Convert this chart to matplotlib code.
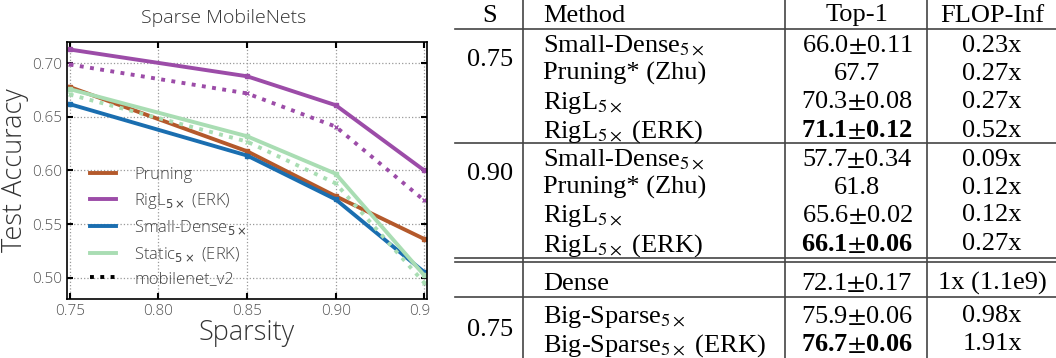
import matplotlib
matplotlib.use("Agg")
import matplotlib.pyplot as plt
from matplotlib.font_manager import FontProperties
from matplotlib.patches import Rectangle
from matplotlib.lines import Line2D

# ---- data ----
sparsity = [0.75, 0.85, 0.90, 0.95]
pruning = [0.678, 0.618, 0.576, 0.536]
rigl_erk = [0.713, 0.688, 0.661, 0.600]
small_dense = [0.662, 0.614, 0.573, 0.505]
static_erk = [0.676, 0.632, 0.597, 0.502]
rigl_erk_v2 = [0.699, 0.672, 0.641, 0.572]
static_erk_v2 = [0.671, 0.627, 0.588, 0.495]

x_ticks = [0.75, 0.80, 0.85, 0.90, 0.95]
y_ticks = [0.50, 0.55, 0.60, 0.65, 0.70]

table_header = ["S", "Method", "Top-1", "FLOP-Inf"]
table_s = ["0.75", "0.90", "0.75"]
table_methods = ["Small-Dense$_{5\\times}$", "Pruning* (Zhu)", "RigL$_{5\\times}$",
                 "RigL$_{5\\times}$ (ERK)",
                 "Small-Dense$_{5\\times}$", "Pruning* (Zhu)", "RigL$_{5\\times}$",
                 "RigL$_{5\\times}$ (ERK)",
                 "Dense", "Big-Sparse$_{5\\times}$", "Big-Sparse$_{5\\times}$ (ERK)"]
table_top1 = ["66.0$\\pm$0.11", "67.7", "70.3$\\pm$0.08", "71.1$\\pm$0.12",
              "57.7$\\pm$0.34", "61.8", "65.6$\\pm$0.02", "66.1$\\pm$0.06",
              "72.1$\\pm$0.17", "75.9$\\pm$0.06", "76.7$\\pm$0.06"]
table_bold = [False, False, False, True, False, False, False, True, False, False, True]
table_flop = ["0.23x", "0.27x", "0.27x", "0.52x", "0.09x", "0.12x", "0.12x", "0.27x",
              "1x (1.1e9)", "0.98x", "1.91x"]

W, H = 1056, 358
fig = plt.figure(figsize=(W / 100, H / 100), dpi=100)


def fx(px):
    return px / W


def fy(py):
    return 1 - py / H


# ---- left: line chart ----
cfont = "Open Sans"
ax = fig.add_axes([fx(67), fy(299), fx(427) - fx(67), fy(42) - fy(299)])

c_prune = "#b4592b"
c_rigl = "#9c4ca8"
c_small = "#1a6eb0"
c_static = "#a9ddb3"
lw = 2.8

ax.plot(sparsity, pruning, color=c_prune, lw=lw, marker="s", ms=3)
ax.plot(sparsity, rigl_erk, color=c_rigl, lw=lw, marker="s", ms=3)
ax.plot(sparsity, small_dense, color=c_small, lw=lw, marker="s", ms=3)
ax.plot(sparsity, static_erk, color=c_static, lw=lw, marker="s", ms=3)
ax.plot(sparsity, rigl_erk_v2, color=c_rigl, lw=lw, ls=":", marker="x", ms=3)
ax.plot(sparsity, static_erk_v2, color=c_static, lw=lw, ls=":", marker="x", ms=3)

ax.set_xlim(0.7485, 0.9515)
ax.set_ylim(0.48, 0.72)
ax.set_xticks(x_ticks)
ax.set_yticks(y_ticks)
ax.set_xticklabels(["%.2f" % v for v in x_ticks])
ax.set_yticklabels(["%.2f" % v for v in y_ticks])
ax.grid(True, ls=":", color="#999999", lw=0.9)
ax.tick_params(direction="in", length=4, width=1.5, colors="black",
               labelcolor="#555555", labelsize=11, top=True, right=True)
for lab in ax.get_xticklabels() + ax.get_yticklabels():
    lab.set_family(cfont)
    lab.set_fontweight("light")
for sp in ax.spines.values():
    sp.set_color("black")
    sp.set_linewidth(1.2)

ax.set_ylabel("Test Accuracy", fontsize=19.5, family=cfont, fontweight="light",
              color="#333333", labelpad=2)
ax.set_xlabel("Sparsity", fontsize=19.5, family=cfont, fontweight="light",
              color="#333333", labelpad=0)
fig.text(fx(224), fy(18), "Sparse MobileNets", ha="center", va="center",
         fontsize=14, family=cfont, fontweight="light", color="#333333")

leg_labels = ["Pruning", "RigL$_{5\\times}$ (ERK)", "Small-Dense$_{5\\times}$",
              "Static$_{5\\times}$ (ERK)", "mobilenet_v2"]
leg_colors = [c_prune, c_rigl, c_small, c_static, "black"]
handles = [Line2D([], [], color=c, lw=lw) for c in leg_colors[:4]]
handles.append(Line2D([], [], color="black", lw=lw, ls=":"))
lprop = FontProperties(family=cfont, weight="light", size=12, math_fontfamily="dejavusans")
leg = ax.legend(handles, leg_labels, loc="lower left", frameon=False, prop=lprop,
                handlelength=1.55, handletextpad=1.1, labelspacing=0.45,
                borderaxespad=0.0, bbox_to_anchor=(0.045, 0.02))
for t in leg.get_texts():
    t.set_color("#444444")

# white mask: the chart image is cropped at the right
fig.add_artist(Rectangle((fx(430), 0), 1 - fx(430), 1, transform=fig.transFigure,
                         facecolor="white", edgecolor="none", zorder=5))

# ---- right: table ----
tprop = dict(family="Liberation Serif", fontsize=19, math_fontfamily="stix",
             color="black", zorder=6)
col_s = 490
col_m = 543
col_t = 857
col_f = 992
line_c = "#444444"

header_y = 13
row_y = [43, 71, 99, 128, 157, 185, 213, 242, 281, 314, 342]
s_y = [57, 171, 328]


def txt(x, y, s, ha="center", bold=False):
    fig.text(fx(x), fy(y), s, ha=ha, va="center_baseline",
             fontweight="bold" if bold else "normal", **tprop)


txt(col_s, header_y, table_header[0])
txt(col_m, header_y, table_header[1], ha="left")
txt(col_t, header_y, table_header[2])
txt(col_f, header_y, table_header[3])

for i in range(len(table_methods)):
    txt(col_m, row_y[i], table_methods[i], ha="left")
    txt(col_t, row_y[i], table_top1[i], bold=table_bold[i])
    txt(col_f, row_y[i], table_flop[i])

for s, y in zip(table_s, s_y):
    txt(col_s, y, s)


def hline(y, x0=455, x1=1056):
    fig.add_artist(Line2D([fx(x0), fx(x1)], [fy(y), fy(y)], color=line_c, lw=1.2,
                          transform=fig.transFigure, zorder=6))


def vline(x, y0=0, y1=358):
    fig.add_artist(Line2D([fx(x), fx(x)], [fy(y0), fy(y1)], color=line_c, lw=1.2,
                          transform=fig.transFigure, zorder=6))


for y in [29, 143, 258, 262, 297]:
    hline(y)
for x in [523, 785, 927]:
    vline(x)

fig.savefig("out.png", dpi=100)
